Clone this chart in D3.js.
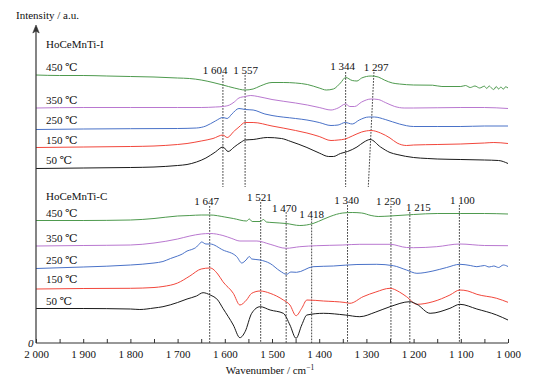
<!DOCTYPE html>
<html><head><meta charset="utf-8">
<script src="https://cdn.jsdelivr.net/npm/d3@7"></script>
<style>
html,body{margin:0;padding:0;background:#fff;}
svg{display:block;}
svg text{font-family:"Liberation Serif","DejaVu Serif","Times New Roman",serif;}
</style></head>
<body><svg id="c" width="535" height="383"></svg>
<script>
// ---------- DATA ----------
const xTickValues = [2000,1900,1800,1700,1600,1500,1400,1300,1200,1100,1000];
const xTickLabels = ["2 000","1 900","1 800","1 700","1 600","1 500","1 400","1 300","1 200","1 100","1 000"];
const xMinorTicks = [1950,1850,1750,1650,1550,1450,1350,1250,1150,1050];
const tempLabels = ["450 ℃","350 ℃","250 ℃","150 ℃","50 ℃"];
const sampleLabels = ["HoCeMnTi-I","HoCeMnTi-C"];
const seriesColors = ["#4e9a4e","#b978d0","#4a72c8","#f2473c","#1a1a1a"];

// HoCeMnTi-I spectra: [wavenumber, intensity]
const I_450 = [[2000,268],[1950,267.5],[1900,267.5],[1850,267],[1800,266.5],[1750,266],[1700,265],[1675,264.5],[1650,263],[1625,260.5],[1604,258],[1580,255],[1557,253],[1540,254],[1525,257],[1500,260.5],[1475,260.5],[1450,260],[1425,258.5],[1400,255],[1385,253],[1370,254],[1355,260],[1344,265.5],[1330,262.5],[1320,262],[1310,265],[1290,267],[1275,266],[1262,263],[1245,260],[1230,259],[1200,258],[1160,257.8],[1140,256.5],[1100,256.5],[1090,257.5],[1080,255.5],[1070,257],[1060,255],[1050,256.8],[1045,254.5],[1040,257],[1035,255],[1030,253.5],[1025,256.5],[1020,254],[1015,256],[1010,253.8],[1005,256.2],[1000,255]];
const I_350 = [[2000,235],[1900,235.5],[1800,235.5],[1700,235.5],[1650,235.5],[1620,236],[1604,236.5],[1590,238],[1580,241],[1570,245],[1557,246.5],[1545,247.5],[1530,246.5],[1500,243.5],[1450,240],[1425,238],[1400,235.5],[1375,233],[1360,235],[1344,239],[1335,236.5],[1325,236.5],[1310,241],[1290,244],[1275,243.5],[1260,240.5],[1240,236.5],[1220,235],[1200,235],[1100,235.5],[1050,235.5],[1000,234.5]];
const I_250 = [[2000,213.5],[1900,214],[1800,214.3],[1700,214.5],[1660,215],[1640,217],[1620,222],[1604,225.5],[1595,224.5],[1585,229],[1570,234.5],[1557,233.5],[1540,233],[1515,229],[1500,227.5],[1450,224.5],[1426,223],[1400,220.5],[1375,217.5],[1360,218],[1345,220.5],[1330,219],[1315,223],[1295,226],[1283,226],[1260,223.5],[1230,219],[1200,216.5],[1150,216.5],[1100,216.5],[1050,217],[1000,217]];
const I_150 = [[2000,195.5],[1900,196],[1800,196.5],[1750,197],[1700,198.5],[1680,199.5],[1650,202],[1625,204.5],[1604,208],[1595,205.5],[1580,212],[1570,216],[1557,220.5],[1540,220.5],[1500,217],[1450,212.5],[1426,210],[1400,206.5],[1375,202.5],[1360,203],[1345,204],[1330,207],[1310,211],[1290,212.5],[1270,210],[1250,205],[1235,200],[1215,197.5],[1200,198],[1150,198.5],[1100,199],[1050,200],[1030,200.5],[1000,199.5]];
const I_50 = [[2000,174.5],[1900,175],[1800,175.5],[1750,176],[1700,177.5],[1680,178.5],[1660,181],[1640,185],[1620,191],[1604,196],[1593,191.5],[1580,196],[1565,201],[1557,203],[1540,203.5],[1510,205.5],[1480,204.5],[1460,201.5],[1426,195.5],[1400,190],[1380,186.5],[1370,186.5],[1355,189.5],[1340,191.5],[1320,196],[1305,201],[1292,203.5],[1270,196],[1250,190.5],[1235,188.5],[1200,185.5],[1170,184.5],[1150,184],[1100,183.5],[1050,183],[1020,182.5],[1000,179.5]];

// HoCeMnTi-C spectra
const C_450 = [[2000,122.5],[1900,122.5],[1800,123],[1750,124.5],[1700,127],[1674,127.5],[1650,128],[1631,128],[1600,126],[1582,124.5],[1554,122],[1548,124],[1542,121.5],[1525,121.5],[1518,123.5],[1512,121],[1500,120.5],[1470,119.5],[1441,117.5],[1413,119.5],[1390,124],[1377,126.5],[1350,130],[1330,130.5],[1310,130],[1290,127.5],[1275,126.5],[1250,127],[1200,128.5],[1150,129.5],[1100,129.5],[1050,129.5],[1000,129]];
const C_350 = [[2000,97],[1900,97.5],[1800,98],[1750,100],[1700,104],[1674,107],[1650,109],[1631,109.5],[1604,107.5],[1585,104.5],[1568,102],[1532,102],[1504,98.7],[1470,94.7],[1441,96.3],[1405,97.3],[1350,98],[1314,98.7],[1250,98.7],[1215,95.5],[1200,95.3],[1151,96.3],[1102,99],[1050,97.5],[1000,97.3]];
const C_250 = [[2000,74.5],[1900,76],[1800,78],[1750,80],[1731,81.5],[1715,84.5],[1700,87],[1690,89],[1680,92],[1670,93.5],[1660,96],[1655,98.5],[1649,101],[1640,99],[1631,99],[1604,93],[1575,86.5],[1564,80],[1555,83],[1548,86.5],[1543,84],[1525,83],[1504,79.5],[1483,72],[1469,68.7],[1460,71],[1448,70.7],[1413,76.3],[1370,77],[1320,78.5],[1278,78.7],[1243,77.3],[1215,73],[1193,69.7],[1159,72],[1130,75.5],[1102,78.7],[1080,77.5],[1066,76.3],[1050,77.5],[1040,76],[1030,77],[1020,75.5],[1010,78],[1000,76.5]];
const C_150 = [[2000,54],[1900,54.5],[1800,54.7],[1750,55.5],[1731,56.5],[1700,60],[1674,67],[1650,74],[1631,75],[1615,69],[1604,61.3],[1582,49.7],[1568,38],[1554,43],[1543,49.7],[1525,52],[1504,49.7],[1476,43],[1462,38],[1449,27.3],[1437,34.7],[1426,43],[1391,42],[1345,40.5],[1335,39.7],[1307,46.3],[1280,51],[1250,54.7],[1230,51],[1215,46.3],[1193,38.7],[1159,41.3],[1123,48],[1102,53],[1085,52],[1066,48.7],[1024,44.7],[1000,40.7]];
const C_50 = [[2000,34.5],[1900,34.5],[1800,34],[1780,33.5],[1750,35],[1731,36.3],[1700,40.5],[1680,44],[1660,47],[1646,50.3],[1631,48],[1615,43],[1604,34.7],[1582,18],[1568,5.3],[1557,11.3],[1543,29.7],[1525,36.3],[1504,33],[1476,29.7],[1462,18],[1449,4.7],[1437,18],[1426,28],[1391,29.7],[1345,28],[1314,26.3],[1280,31],[1250,36.3],[1208,41.3],[1193,38.7],[1165,29.7],[1123,34.7],[1102,38.7],[1066,34],[1024,28],[1000,23]];

// Peak markers
const peakLabelsI = ["1 604","1 557","1 344","1 297"];
const peakLinesI = [[1604,1604],[1557,1557],[1344,1344],[1284,1296]]; // [top, bottom] wavenumber
const peakLabelsC = ["1 647","1 521","1 470","1 418","1 340","1 250","1 215","1 100"];
const peakLinesC = [1632,1524,1470,1416,1340,1248,1208,1103];

// ---------- LAYOUT ----------
const FONT = "Liberation Serif, DejaVu Serif, Times New Roman, serif";
const X0 = 36, X1 = 508, Y0 = 343, YT = 25;
const svg = d3.select("#c").attr("font-family",FONT);
const x = d3.scaleLinear().domain([2000,1000]).range([X0,X1]);
const y = d3.scaleLinear().domain([0,318]).range([Y0,YT]);
const FS = 11;
const txt = (sel)=>sel.attr("font-family",FONT).attr("font-size",FS).attr("fill","#111");

const peakLayoutI = [{lx:215,ly:73.5,top:75,bot:187},{lx:245.7,ly:73.5,top:75,bot:187},{lx:342.7,ly:70,top:72,bot:187},{lx:376,ly:70.5,top:72,bot:187}];
const peakLayoutC = [{lx:206.7,ly:204.5,top:206},{lx:259.3,ly:200.5,top:202},{lx:284.3,ly:211.5,top:212},{lx:311.7,ly:218,top:218.5},{lx:346.7,ly:204,top:205},{lx:388.3,ly:205,top:206},{lx:418.3,ly:210.5,top:212},{lx:462.3,ly:204,top:205}];
const labelYI = [47.7,71.2,104.3,124.3,144.3,163.8];
const labelYC = [199.7,217,242,263.7,283,305.3];

const dashStyle = {stroke:"#333", w:0.9, dash:"1.8,1.2"};
peakLinesI.forEach((p,i)=>{
  svg.append("line").attr("x1",x(p[0])).attr("y1",peakLayoutI[i].top)
    .attr("x2",x(p[1])).attr("y2",peakLayoutI[i].bot)
    .attr("stroke",dashStyle.stroke).attr("stroke-width",dashStyle.w).attr("stroke-dasharray",dashStyle.dash);
  svg.append("text").attr("x",peakLayoutI[i].lx).attr("y",peakLayoutI[i].ly)
    .attr("text-anchor","middle").call(txt).text(peakLabelsI[i]);
});
peakLinesC.forEach((p,i)=>{
  svg.append("line").attr("x1",x(p)).attr("y1",peakLayoutC[i].top)
    .attr("x2",x(p)).attr("y2",Y0)
    .attr("stroke",dashStyle.stroke).attr("stroke-width",dashStyle.w).attr("stroke-dasharray",dashStyle.dash);
  svg.append("text").attr("x",peakLayoutC[i].lx).attr("y",peakLayoutC[i].ly)
    .attr("text-anchor","middle").call(txt).text(peakLabelsC[i]);
});

const line = d3.line().x(d=>x(d[0])).y(d=>y(d[1])).curve(d3.curveMonotoneX);
const seriesI = [I_450,I_350,I_250,I_150,I_50];
const seriesC = [C_450,C_350,C_250,C_150,C_50];
[seriesI,seriesC].forEach(group=>{
  group.forEach((s,i)=>{
    svg.append("path").attr("d",line(s)).attr("fill","none")
      .attr("stroke",seriesColors[i]).attr("stroke-width",1).attr("stroke-linejoin","round");
  });
});

[[sampleLabels[0],labelYI],[sampleLabels[1],labelYC]].forEach(([name,ys])=>{
  svg.append("text").attr("x",46).attr("y",ys[0]).call(txt).text(name);
  tempLabels.forEach((t,i)=>{
    svg.append("text").attr("x",46).attr("y",ys[i+1]).call(txt).text(t);
  });
});

const axisColor = "#333";
svg.append("line").attr("x1",X0).attr("x2",X1).attr("y1",Y0).attr("y2",Y0)
  .attr("stroke",axisColor).attr("stroke-width",1.2);
const xAxis = d3.axisBottom(x).tickValues(xTickValues.concat(xMinorTicks))
  .tickSize(-4).tickSizeOuter(0)
  .tickFormat(d=>{const k = xTickValues.indexOf(d); return k>=0 ? xTickLabels[k] : "";});
const gx = svg.append("g").attr("transform",`translate(0,${Y0})`).call(xAxis)
  .attr("font-family",FONT).attr("font-size",FS);
gx.select(".domain").remove();
gx.selectAll(".tick line").attr("stroke",axisColor).attr("stroke-width",1);
gx.selectAll(".tick text").call(txt).attr("y",7).attr("dy","0.71em");
svg.append("text").attr("x",270).attr("y",374).attr("text-anchor","middle").call(txt)
  .call(t=>{t.append("tspan").text("Wavenumber / cm");
            t.append("tspan").attr("dy",-4).attr("font-size",7.5).text("−1");});

svg.append("line").attr("x1",X0).attr("x2",X0).attr("y1",Y0).attr("y2",YT+2)
  .attr("stroke",axisColor).attr("stroke-width",1.2);
svg.append("path").attr("d",`M${X0-3.2},${YT+8} L${X0},${YT} L${X0+3.2},${YT+8} L${X0},${YT+6} Z`)
  .attr("fill",axisColor).attr("stroke",axisColor).attr("stroke-width",0.6);
svg.append("text").attr("x",16).attr("y",18.5).call(txt).text("Intensity / a.u.");
svg.append("text").attr("x",33.5).attr("y",346.5).attr("text-anchor","end")
  .call(txt).attr("font-style","italic").text("0");
</script></body></html>
